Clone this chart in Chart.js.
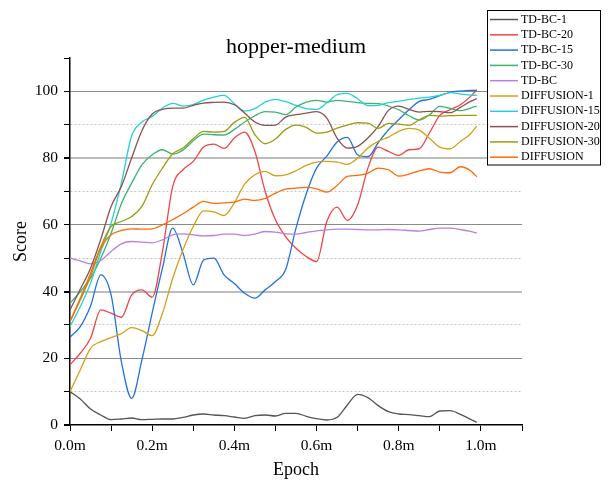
<!DOCTYPE html>
<html>
<head>
    <title>hopper-medium</title>
    <script src="https://cdn.jsdelivr.net/npm/chart.js@4.4.1/dist/chart.umd.min.js"></script>
    <style>
        body { margin: 0; background: #fff; }
        canvas { display: block; }
    </style>
</head>
<body>
    <canvas id="myChart" width="611" height="482"></canvas>

    <script>
        // epochs in millions of steps
        const epochs = [0, 0.025, 0.05, 0.075, 0.1, 0.125, 0.15, 0.175, 0.2, 0.225, 0.25, 0.275, 0.3, 0.325, 0.35, 0.375, 0.4, 0.425, 0.45, 0.475, 0.5, 0.525, 0.55, 0.575, 0.6, 0.625, 0.65, 0.675, 0.7, 0.725, 0.75, 0.775, 0.8, 0.825, 0.85, 0.875, 0.9, 0.925, 0.95, 0.975, 0.99];

        const tdbc1 = [10, 7.8, 4.8, 3, 1.6, 1.8, 2.1, 1.6, 1.7, 1.8, 1.8, 2.3, 3.0, 3.3, 3.0, 2.8, 2.4, 2.0, 2.8, 3.0, 2.7, 3.5, 3.5, 2.6, 1.9, 1.5, 2.3, 6, 9.2, 8.2, 5.8, 4.0, 3.3, 3.1, 2.8, 2.5, 4.2, 4.3, 3.2, 1.7, 0.8];
        const tdbc20 = [18, 21.5, 26, 34.5, 33.5, 32.3, 39, 40.5, 38.3, 52, 71.5, 76.5, 79, 83.3, 84.2, 82.9, 86, 87.8, 82, 70, 61.5, 56.4, 53, 50.5, 49, 61, 65.3, 61.3, 66, 77, 83.3, 82, 80.8, 82.5, 82.8, 87.6, 92.8, 94.5, 96, 98.5, 100.5];
        const tdbc15 = [26.3, 29.5, 35.7, 45, 39, 19, 8, 19.5, 33.6, 47, 59, 51.5, 42, 49.4, 50, 45, 42.4, 39.5, 38, 40.5, 43, 46.7, 59, 69.3, 77, 80.6, 84.8, 86.2, 81, 80.4, 84.6, 88.5, 91.5, 94.5, 97, 97.6, 98.7, 99.7, 100.1, 100.3, 100.3];
        const tdbc30 = [36.5, 40, 44, 50, 57.5, 66.3, 72.5, 78, 81, 82.5, 81.2, 82.4, 85.2, 87.2, 87, 86.9, 88.6, 90.8, 92.7, 93.9, 93.8, 93, 95.3, 96.8, 97.3, 96.8, 97.3, 97, 96.6, 96.4, 96.3, 95.6, 94.5, 92.7, 91.4, 93, 95.5, 94.9, 94.2, 95, 95.6];
        const tdbc = [50, 49.2, 48.3, 49.3, 52, 54.3, 55, 54.8, 54.6, 55.5, 57, 57.3, 57, 56.7, 56.8, 57.2, 57.2, 56.8, 57.2, 58, 57.8, 57.3, 57.2, 57.7, 58.2, 58.5, 58.7, 58.7, 58.6, 58.5, 58.5, 58.6, 58.5, 58.3, 58.1, 58.6, 59, 59, 58.6, 58, 57.5];
        const diff1 = [10, 16.5, 23, 25, 26.2, 27.4, 29.2, 28.3, 26.8, 33.5, 44, 52.5, 59.5, 64.2, 63.9, 62.8, 66.6, 72.2, 75, 76, 74.7, 75, 76.2, 77.8, 78.8, 79, 78.8, 78.1, 80, 83, 85, 86.3, 88, 88.9, 88.4, 85.9, 83.3, 82.8, 85, 87.3, 89.6];
        const diff15 = [29.5, 35.5, 42.5, 52, 60.5, 72.5, 86.6, 90.8, 92.5, 95, 96.4, 95.6, 96, 97.4, 98.3, 98.8, 96.3, 94.1, 94.8, 96.8, 97.6, 96.9, 95.8, 94.8, 94.6, 96.5, 99, 99.4, 97.8, 95.7, 95.8, 96.6, 97, 97.6, 98, 98.3, 98.8, 99.6, 99.2, 98.9, 98.8];
        const diff20 = [34.5, 40.7, 47, 55.7, 65.5, 71.5, 80, 88.2, 93.2, 94.6, 95, 95, 95.8, 96.5, 96.7, 96.8, 96, 93.5, 90.8, 89.8, 89.9, 92.3, 93, 93.5, 93.9, 92, 86, 83, 83.5, 86, 89.5, 94.3, 95.6, 94.6, 93.8, 94, 93.9, 93.6, 95.2, 97, 97.8];
        const diff30 = [31, 38, 45.5, 53.5, 59.5, 61, 62.5, 65.5, 72, 77, 81.3, 83, 85.8, 88, 87.8, 88, 90.7, 92.2, 87, 84.3, 85.7, 88.6, 89.9, 89.2, 87.5, 87.8, 89, 89.9, 90.6, 90.5, 88.9, 90.4, 90.2, 89.8, 91.5, 92.8, 92.6, 92.7, 92.8, 92.8, 92.8];
        const diffusion = [31, 37.5, 44.5, 53, 57, 58.3, 58.8, 58.7, 58.8, 60, 61.6, 63.3, 65.3, 67, 66.4, 66.6, 66.8, 67.7, 67.3, 67.9, 69.5, 70.7, 71, 71.2, 70.8, 69.8, 71.8, 74.5, 74.8, 75.5, 77, 76.5, 74.6, 75.2, 76.2, 76.8, 75.8, 75.6, 77.4, 76.2, 74.4];

        const seriesNames = ['TD-BC-1', 'TD-BC-20', 'TD-BC-15', 'TD-BC-30', 'TD-BC', 'DIFFUSION-1', 'DIFFUSION-15', 'DIFFUSION-20', 'DIFFUSION-30', 'DIFFUSION'];
        const seriesValues = [tdbc1, tdbc20, tdbc15, tdbc30, tdbc, diff1, diff15, diff20, diff30, diffusion];
        const colors = ['#555555', '#f04545', '#2372e0', '#3cb371', '#b581e6', '#d4a017', '#22d3d0', '#8c5252', '#9c9a12', '#ff6a06'];

        const xTicks = [0, 0.2, 0.4, 0.6, 0.8, 1.0];
        const yTicks = [0, 20, 40, 60, 80, 100];

        // legend drawn in a box at the top right, over the plot edge
        const legendBox = {
            id: 'legendBox',
            afterDraw(chart) {
                const ctx = chart.ctx;
                ctx.save();
                ctx.fillStyle = '#fff';
                ctx.fillRect(487.5, 10.5, 113, 154.5);
                ctx.strokeStyle = '#000';
                ctx.lineWidth = 1;
                ctx.strokeRect(487.5, 10.5, 113, 154.5);
                ctx.font = '12px "Liberation Serif", "Times New Roman", serif';
                ctx.textBaseline = 'middle';
                chart.data.datasets.forEach((ds, i) => {
                    const y = 19.5 + i * 15.3;
                    ctx.strokeStyle = ds.borderColor;
                    ctx.lineWidth = 1.5;
                    ctx.beginPath();
                    ctx.moveTo(490, y);
                    ctx.lineTo(518, y);
                    ctx.stroke();
                    ctx.fillStyle = '#000';
                    ctx.fillText(ds.label, 521, y);
                });
                ctx.restore();
            }
        };

        Chart.defaults.font.family = '"Liberation Serif", "Times New Roman", serif';
        Chart.defaults.color = '#000';

        const tickVal = c => (c.tick ? c.tick.value : undefined);

        const ctx = document.getElementById('myChart').getContext('2d');
        new Chart(ctx, {
            type: 'line',
            data: {
                datasets: seriesNames.map((name, i) => ({
                    label: name,
                    data: epochs.map((e, j) => ({ x: e, y: seriesValues[i][j] })),
                    borderColor: colors[i],
                    backgroundColor: colors[i],
                    borderWidth: 1.3,
                    pointRadius: 0,
                    fill: false,
                    cubicInterpolationMode: 'monotone',
                    order: seriesNames.length - i
                }))
            },
            options: {
                responsive: false,
                animation: false,
                layout: { padding: { left: 0, right: 89, top: 0, bottom: 0 } },
                plugins: {
                    legend: { display: false },
                    tooltip: { enabled: false },
                    title: {
                        display: true,
                        fullSize: false,
                        text: 'hopper-medium',
                        color: '#000',
                        font: { size: 22, weight: 'normal', lineHeight: 1 },
                        padding: { top: 36, bottom: 0 }
                    }
                },
                scales: {
                    x: {
                        type: 'linear',
                        min: 0,
                        max: 1.1,
                        afterFit: s => { s.height = 57; },
                        ticks: {
                            stepSize: 0.1,
                            autoSkip: false,
                            maxRotation: 0,
                            padding: 6,
                            font: { size: 15.5 },
                            callback: v => {
                                const hit = xTicks.find(t => Math.abs(t - v) < 1e-6);
                                return hit !== undefined ? hit.toFixed(1) + 'm' : '';
                            }
                        },
                        grid: { drawOnChartArea: false, tickLength: 6, tickColor: '#000' },
                        border: { color: '#000', width: 1.5 },
                        title: {
                            display: true,
                            text: 'Epoch',
                            font: { size: 18 },
                            padding: { top: 0, bottom: 1 }
                        }
                    },
                    y: {
                        min: 0,
                        max: 110,
                        afterFit: s => { s.width = 70; },
                        ticks: {
                            stepSize: 10,
                            autoSkip: false,
                            padding: 6,
                            font: { size: 15.5 },
                            callback: v => (yTicks.includes(v) ? String(v) : '')
                        },
                        grid: {
                            color: c => {
                                const v = tickVal(c);
                                if (v === undefined || v === 0 || v >= 110) return 'rgba(0,0,0,0)';
                                if (v % 20 !== 0) return '#c4c4c4';
                                return v % 40 === 0 ? '#bdbdbd' : '#8a8a8a';
                            },
                            lineWidth: c => {
                                const v = tickVal(c);
                                return v !== undefined && v % 40 === 0 ? 2 : 1;
                            },
                            tickLength: 6,
                            tickColor: '#000'
                        },
                        border: {
                            color: '#000',
                            width: 1.5,
                            dash: c => {
                                const v = tickVal(c);
                                return v !== undefined && v % 20 !== 0 ? [2, 2] : [];
                            }
                        },
                        title: {
                            display: true,
                            text: 'Score',
                            font: { size: 18 },
                            padding: { top: 10, bottom: 0 }
                        }
                    }
                }
            },
            plugins: [legendBox]
        });
    </script>
</body>
</html>
